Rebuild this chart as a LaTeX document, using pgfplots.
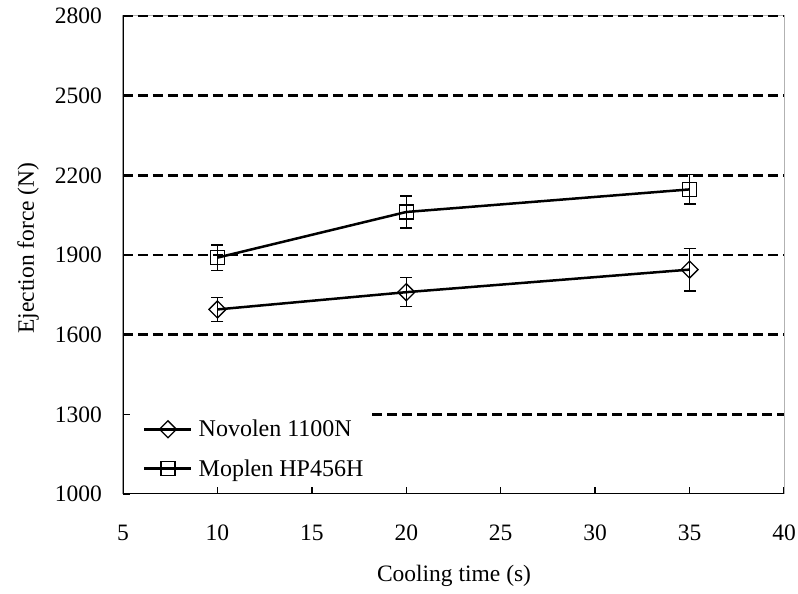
\documentclass[border=0pt]{standalone}
\usepackage{fontspec}
\setmainfont{Liberation Serif}
\usepackage{pgfplots}
\pgfplotsset{compat=1.18}
\newcommand\fs{\fontsize{23.5}{28}\selectfont}
\newcommand\lfs{\fontsize{24}{28}\selectfont}
\tikzset{grd/.style={black, line width=2.4pt, dash pattern=on 10pt off 5pt}}

\begin{document}
\begin{tikzpicture}
\begin{axis}[
  scale only axis, width=661pt, height=478pt,
  xmin=5, xmax=40, ymin=1000, ymax=2800,
  xtick={5,10,...,40}, ytick={1000,1300,...,2800},
  tick align=inside, tick pos=left, major tick length=7pt,
  tick style={black, line width=1.3pt},
  axis line style={gray!60, line width=1pt},
  /pgf/number format/assume math mode=true,
  /pgf/number format/1000 sep={},
  tick label style={font=\fs, inner sep=0pt},
  xticklabel style={anchor=center, yshift=-39pt},
  yticklabel style={anchor=east, xshift=-21pt},
  label style={font=\fs},
  xlabel={Cooling time (s)},
  ylabel={Ejection force (N)},
  xlabel style={at={(axis description cs:0.5008,-0.1715)}, anchor=center},
  ylabel style={at={(axis description cs:-0.1437,0.5146)}, anchor=center},
  legend style={at={(axis description cs:0.0303,0.034)}, anchor=south west,
    draw=none, fill=none, inner sep=0pt, font=\lfs, row sep=21pt,
    column sep=6pt, nodes={inner sep=0pt}},
  legend cell align=left,
  legend image code/.code={\draw[mark repeat=2, mark phase=2]
    plot coordinates {(0pt,0pt) (23.5pt,0pt) (47pt,0pt)};},
]
% dashed grid (the 1300 line is cut by the legend)
\pgfplotsinvokeforeach{1600,1900,2200,2500,2800}{
  \draw[grd] (axis cs:5,#1) -- (axis cs:40,#1);
}
\draw[grd] (axis cs:18.19,1300) -- (axis cs:40,1300);

\addplot[black, line width=2.5pt, mark=square, mark size=6pt,
  mark options={rotate=45, line width=1.3pt, solid},
  error bars/.cd, y dir=both, y explicit,
  error bar style={line width=1.4pt, black},
  error mark options={rotate=90, mark size=6pt, line width=1.4pt, black}]
  coordinates {(10,1695) +- (0,45) (20,1760) +- (0,55) (35,1845) +- (0,80)};
\addlegendentry{Novolen 1100N}

\addplot[black, line width=2.5pt, mark=square, mark size=7pt,
  mark options={line width=1.3pt, solid},
  error bars/.cd, y dir=both, y explicit,
  error bar style={line width=1.4pt, black},
  error mark options={rotate=90, mark size=6pt, line width=1.4pt, black}]
  coordinates {(10,1890) +- (0,48) (20,2062) +- (0,60) (35,2147) +- (0,55)};
\addlegendentry{Moplen HP456H}

\draw[black, line width=1.6pt] (rel axis cs:0,1) -- (rel axis cs:0,0) -- (rel axis cs:1,0);
\coordinate (sw) at (rel axis cs:0,0);
\coordinate (ne) at (rel axis cs:1,1);
\end{axis}
\pgfresetboundingbox
\path[use as bounding box] ([xshift=-123pt,yshift=-100pt]sw) rectangle ([xshift=14pt,yshift=16pt]ne);
\end{tikzpicture}
\end{document}
